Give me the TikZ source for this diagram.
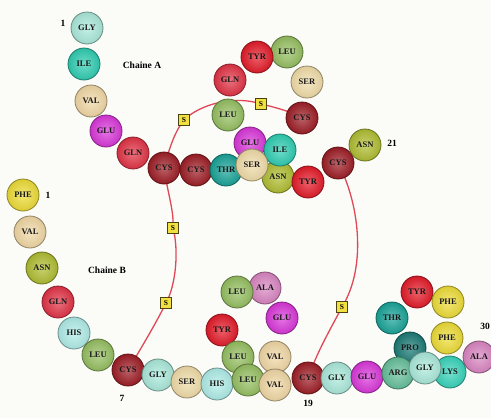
\documentclass[tikz,border=0pt]{standalone}
\usepackage{fontspec}
\setmainfont{Liberation Serif}
\usetikzlibrary{backgrounds}
\definecolor{bgc}{HTML}{FBFCF8}
\definecolor{cgly}{HTML}{ABEADB}
\definecolor{cile}{HTML}{30CDB2}
\definecolor{cval}{HTML}{F2D9A6}
\definecolor{cglu}{HTML}{DA38DA}
\definecolor{cgln}{HTML}{E23446}
\definecolor{ccys}{HTML}{9E1E26}
\definecolor{cthr}{HTML}{1AA498}
\definecolor{cser}{HTML}{F1DDA9}
\definecolor{cleu}{HTML}{96C062}
\definecolor{ctyr}{HTML}{E41C2A}
\definecolor{casn}{HTML}{B0BE32}
\definecolor{cphe}{HTML}{EEDD38}
\definecolor{chis}{HTML}{B0EDE8}
\definecolor{cala}{HTML}{DA86C2}
\definecolor{cpro}{HTML}{1C7B76}
\definecolor{carg}{HTML}{66C09B}
\definecolor{clys}{HTML}{38D4BB}
\definecolor{lnk}{HTML}{E04858}
\definecolor{sfill}{HTML}{F2E040}
\tikzset{
  aa/.style={circle, minimum size=32pt, inner sep=0pt, draw=#1!60!black, line width=0.8pt,
    shading=radial, inner color=#1!70!white, outer color=#1!92!black,
    font=\fontsize{8.5}{9}\selectfont\bfseries, text=black!90},
  sbox/.style={rectangle, minimum size=11pt, inner sep=0pt, fill=sfill, draw=black!70!sfill,
    line width=0.6pt, font=\fontsize{7.5}{8}\selectfont\bfseries},
  lab/.style={font=\fontsize{9.5}{10}\selectfont\bfseries, inner sep=0pt},
  ss/.style={draw=lnk, line width=1.3pt}
}
\begin{document}
\begin{tikzpicture}[x=1pt,y=-1pt]
\useasboundingbox (0,0) rectangle (491,418);
% chain A
\node[aa=cgly] (a1) at (87,28) {GLY};
\node[aa=cile] (a2) at (84,64) {ILE};
\node[aa=cval] (a3) at (91,101) {VAL};
\node[aa=cglu] (a4) at (106,131) {GLU};
\node[aa=cgln] (a5) at (133,153) {GLN};
\node[aa=ccys] (a6) at (164,168) {CYS};
\node[aa=ccys] (a7) at (196,170) {CYS};
\node[aa=cthr] (a8) at (226,170) {THR};
\node[aa=cleu] (a13) at (287,52) {LEU};
\node[aa=ctyr] (a14) at (257,57) {TYR};
\node[aa=cser] (a12) at (307,82) {SER};
\node[aa=cgln] (a15) at (230,80) {GLN};
\node[aa=cleu] (a16) at (228,115) {LEU};
\node[aa=ccys] (a11) at (302,118) {CYS};
\node[aa=cglu] (a17) at (250,143) {GLU};
\node[aa=casn] (a18) at (278,177) {ASN};
\node[aa=cile] (a10) at (280,150) {ILE};
\node[aa=cser] (a9) at (252,165) {SER};
\node[aa=ctyr] (a19) at (308,182) {TYR};
\node[aa=ccys] (a20) at (338,163) {CYS};
\node[aa=casn] (a21) at (365,145) {ASN};
% chain B
\node[aa=cphe] (b1) at (23,195) {PHE};
\node[aa=cval] (b2) at (30,232) {VAL};
\node[aa=casn] (b3) at (42,268) {ASN};
\node[aa=cgln] (b4) at (58,302) {GLN};
\node[aa=chis] (b5) at (74,333) {HIS};
\node[aa=cleu] (b6) at (98,355) {LEU};
\node[aa=ccys] (b7) at (128,370) {CYS};
\node[aa=cgly] (b8) at (158,375) {GLY};
\node[aa=cser] (b9) at (187,382) {SER};
\node[aa=chis] (b10) at (217,384) {HIS};
\node[aa=cala] (b14) at (265,288) {ALA};
\node[aa=cleu] (b15) at (237,292) {LEU};
\node[aa=cglu] (b13) at (282,318) {GLU};
\node[aa=ctyr] (b16) at (222,330) {TYR};
\node[aa=cleu] (b17) at (238,357) {LEU};
\node[aa=cval] (b12) at (275,357) {VAL};
\node[aa=cleu] (b11) at (248,380) {LEU};
\node[aa=cval] (b18) at (275,385) {VAL};
\node[aa=ccys] (b19) at (308,378) {CYS};
\node[aa=cgly] (b20) at (337,378) {GLY};
\node[aa=cglu] (b21) at (367,377) {GLU};
\node[aa=cthr] (b27) at (392,318) {THR};
\node[aa=ctyr] (b26) at (417,292) {TYR};
\node[aa=cphe] (b25) at (448,302) {PHE};
\node[aa=cpro] (b28) at (410,348) {PRO};
\node[aa=clys] (b29) at (450,372) {LYS};
\node[aa=cphe] (b24) at (447,338) {PHE};
\node[aa=carg] (b22) at (398,373) {ARG};
\node[aa=cgly] (b23) at (425,368) {GLY};
\node[aa=cala] (b30) at (479,357) {ALA};
% S boxes
\node[sbox] (s1) at (184,120) {S};
\node[sbox] (s2) at (261,104) {S};
\node[sbox] (s3) at (173,228) {S};
\node[sbox] (s4) at (166,303) {S};
\node[sbox] (s5) at (342,307) {S};
% labels
\node[lab] (la) at (142,65) {Chaine A};
\node[lab] (lb) at (107,270) {Chaine B};
\node[lab] (n1a) at (63,23) {1};
\node[lab] (n1b) at (48,195) {1};
\node[lab] (n7) at (122,398) {7};
\node[lab] (n19) at (308,403) {19};
\node[lab] (n21) at (392,143) {21};
\node[lab] (n30) at (485,326) {30};
\begin{scope}[on background layer]
\fill[bgc] (0,0) rectangle (491,418);
\draw[ss] (a6.center) .. controls (170,145) and (176,130) .. (s1.center)
  .. controls (200,104) and (235,95) .. (s2.center)
  .. controls (278,108) and (292,112) .. (a11.center);
\draw[ss] (a6.center) .. controls (168,195) and (174,210) .. (s3.center)
  .. controls (179,250) and (176,285) .. (s4.center)
  .. controls (155,325) and (140,350) .. (b7.center);
\draw[ss] (a20.center) .. controls (358,200) and (368,265) .. (s5.center)
  .. controls (330,330) and (318,350) .. (b19.center);
\end{scope}
\end{tikzpicture}
\end{document}
